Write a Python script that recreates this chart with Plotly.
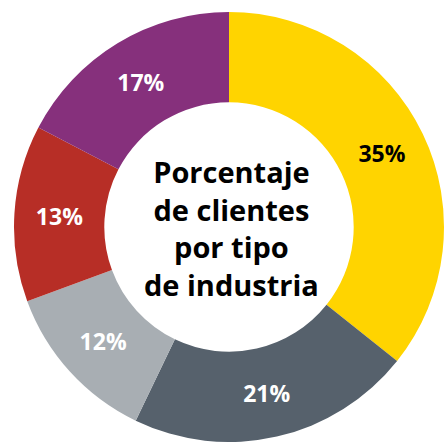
import plotly.graph_objects as go

industries = ["Industria A", "Industria B", "Industria C", "Industria D", "Industria E"]
values = [35, 21, 12, 13, 17]
colors = ["#FFD400", "#56616C", "#A8AEB3", "#B72E26", "#86307C"]
text_colors = ["#000000", "#FFFFFF", "#FFFFFF", "#FFFFFF", "#FFFFFF"]
labels_txt = [f"{v}%" for v in values]
center_title = "Porcentaje<br>de clientes<br>por tipo<br>de industria"

W, H = 445, 442

fig = go.Figure(go.Pie(
    labels=industries,
    values=values,
    text=labels_txt,
    textinfo="text",
    textposition="inside",
    insidetextorientation="horizontal",
    hole=0.58,
    sort=False,
    direction="clockwise",
    rotation=0,
    marker=dict(colors=colors, line=dict(width=0)),
    textfont=dict(family="Open Sans", size=23, color=text_colors, weight="bold"),
    domain=dict(x=[13 / W, 1.0], y=[0.0, 1 - 12 / H]),
    showlegend=False,
))

fig.add_annotation(
    text=center_title,
    x=231 / W, y=1 - 228 / H, xref="paper", yref="paper",
    showarrow=False,
    font=dict(family="Open Sans", size=29, color="#000000", weight="bold"),
    align="center",
)

fig.update_layout(
    width=W, height=H,
    margin=dict(l=0, r=0, t=0, b=0),
    paper_bgcolor="white",
    plot_bgcolor="white",
)

fig.write_html(
    "out.html",
    config={"displayModeBar": False},
    post_script="document.body.style.margin='0';document.body.style.overflow='hidden';",
)
